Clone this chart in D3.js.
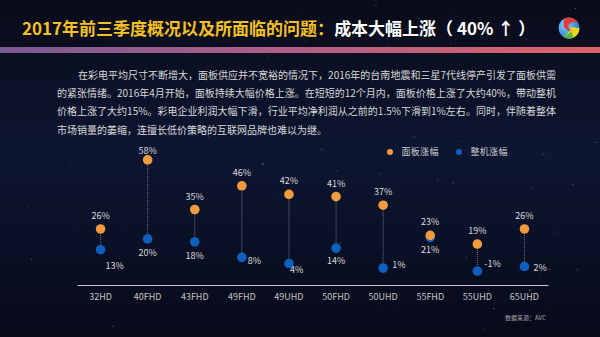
<!DOCTYPE html>
<html><head><meta charset="utf-8">
<script src="https://cdnjs.cloudflare.com/ajax/libs/d3/7.8.5/d3.min.js"></script>
<style>html,body{margin:0;padding:0;background:#0a0e1f;}svg{display:block;}</style>
</head><body>
<script>
// ---------- data ----------
const categories = ["32HD","40FHD","43FHD","49FHD","49UHD","50FHD","50UHD","55FHD","55UHD","65UHD"];
const panelRise  = [26, 58, 35, 46, 42, 41, 37, 23, 19, 26];   // 面板涨幅 (%)
const tvRise     = [13, 20, 18, 8, 4, 14, 1, 21, -1, 2];        // 整机涨幅 (%)
const seriesNames = ["面板涨幅", "整机涨幅"];
const titleYellow = "2017年前三季度概况以及所面临的问题：";
const titleWhite = "成本大幅上涨（ 40% ↑ ）";
const paragraph = [
  "在彩电平均尺寸不断增大，面板供应并不宽裕的情况下，2016年的台南地震和三星7代线停产引发了面板供需",
  "的紧张情绪。2016年4月开始，面板持续大幅价格上涨。在短短的12个月内，面板价格上涨了大约40%，带动整机",
  "价格上涨了大约15%。彩电企业利润大幅下滑，行业平均净利润从之前的1.5%下滑到1%左右。同时，伴随着整体",
  "市场销量的萎缩，连擅长低价策略的互联网品牌也难以为继。"
];
const sourceText = "数据来源：AVC";

// ---------- layout ----------
const W = 600, H = 337;
const FONT = "'Noto Sans CJK SC','Noto Sans',sans-serif";
const ORANGE = "#f29a3f", BLUE = "#0f5fbf";
// label offsets for the 整机 labels (dx, dy, anchor)
const blueLabelLayout = [[5,19,"start"],[0,17,"middle"],[0,17,"middle"],[6,7,"start"],[1,10,"start"],
                         [0,16,"middle"],[9,0,"start"],[0,16,"middle"],[7,-4,"start"],[9,4,"start"]];

const svg = d3.select("body").append("svg").attr("width", W).attr("height", H);
const defs = svg.append("defs");

const bg = defs.append("linearGradient").attr("id","bg").attr("x1",0).attr("y1",0).attr("x2",0).attr("y2",1);
bg.append("stop").attr("offset","0%").attr("stop-color","#090b18");
bg.append("stop").attr("offset","45%").attr("stop-color","#0d1632");
bg.append("stop").attr("offset","100%").attr("stop-color","#070a19");
svg.append("rect").attr("width",W).attr("height",H).attr("fill","url(#bg)");

// faint stars (deterministic)
let seed = 7;
const rnd = () => (seed = (seed * 16807) % 2147483647) / 2147483647;
const stars = svg.append("g");
for (let i = 0; i < 90; i++) {
  const sx = rnd()*W, sy = rnd()*H, so = 0.1 + rnd()*0.35, sr = 0.3 + rnd()*0.5;
  stars.append("circle").attr("cx",sx).attr("cy",sy).attr("r",sr).attr("fill","#ffffff").attr("opacity",so);
}

// title
const title = svg.append("text").attr("x",22).attr("y",34.5)
  .attr("font-family",FONT).attr("font-size",17).attr("font-weight","bold");
title.append("tspan").attr("fill","#f6c124").text(titleYellow);
title.append("tspan").attr("fill","#ffffff").text(titleWhite);

// gradient bar
const bar = defs.append("linearGradient").attr("id","bar").attr("x1",0).attr("x2",1).attr("y1",0).attr("y2",0);
bar.append("stop").attr("offset","0%").attr("stop-color","#7a5a92");
bar.append("stop").attr("offset","50%").attr("stop-color","#b35f86");
bar.append("stop").attr("offset","100%").attr("stop-color","#db6468");
svg.append("rect").attr("x",0).attr("y",47).attr("width",W).attr("height",6).attr("fill","url(#bar)");

// logo
const lg = svg.append("g").attr("transform","translate(569,28)");
const lgGrad = defs.append("radialGradient").attr("id","lgb").attr("cx","35%").attr("cy","35%").attr("r","70%");
lgGrad.append("stop").attr("offset","0%").attr("stop-color","#8ad8ff");
lgGrad.append("stop").attr("offset","100%").attr("stop-color","#1670d0");
lg.append("circle").attr("r",10.5).attr("fill","url(#lgb)");
lg.append("path").attr("d","M10.5,0 A10.5,10.5 0 0 1 -6,8.6 Q1,5 2,-1 Z").attr("fill","#f2d21e");
lg.append("path").attr("d","M4,9.7 A10.5,10.5 0 0 1 -6,8.6 Q0,6.5 2.5,3 Z").attr("fill","#47b94a");
lg.append("path").attr("d","M-4,-9.7 A10.5,10.5 0 0 1 9.5,-4 Q6,-7.5 1,-4.5 Q-3,-1 2.5,3 Q-5.5,2 -5.5,-3 Q-5.5,-7.5 -4,-9.7 Z").attr("fill","#e8393a");

// paragraph
paragraph.forEach((line, i) => {
  const x0 = i === 0 ? 78 : 57;
  const t = svg.append("text").attr("x",x0).attr("y",79 + i*18.2)
    .attr("font-family",FONT).attr("font-size",10).attr("fill","#d8d8d8").text(line);
  if (i < 3) t.attr("textLength", 556 - x0).attr("lengthAdjust","spacing");
});

// scales
const x = d3.scaleBand().domain(categories).range([77, 548]);
const yPanel = d3.scaleLinear().domain([0, 60]).range([285, 155.6]);
const yTv = d3.scaleLinear().domain([-10, 74.2]).range([285, 155.6]);
const cx = d => x(d) + x.bandwidth()/2;

// axis
const axis = svg.append("g").attr("transform","translate(0,285)")
  .call(d3.axisBottom(x).tickSize(0).tickPadding(9));
axis.select(".domain").attr("stroke","#c8c8c8").attr("stroke-width",1);
axis.selectAll("text").attr("font-family",FONT).attr("font-size",9).attr("fill","#c4c4c4");

// connectors
svg.append("g").selectAll("line").data(categories).join("line")
  .attr("x1",cx).attr("x2",cx)
  .attr("y1",(d,i)=>yPanel(panelRise[i])).attr("y2",(d,i)=>yTv(tvRise[i]))
  .attr("stroke","#8a8f9e").attr("stroke-width",0.8).attr("stroke-dasharray","1,1");

// tv dots
svg.append("g").selectAll("circle").data(categories).join("circle")
  .attr("cx",cx).attr("cy",(d,i)=>yTv(tvRise[i])).attr("r",4.8).attr("fill",BLUE);
// panel dots
svg.append("g").selectAll("circle").data(categories).join("circle")
  .attr("cx",cx).attr("cy",(d,i)=>yPanel(panelRise[i])).attr("r",4.8).attr("fill",ORANGE);

// labels
svg.append("g").selectAll("text").data(categories).join("text")
  .attr("x",cx).attr("y",(d,i)=>Math.max(yPanel(panelRise[i]) - 10, 154))
  .attr("text-anchor","middle").attr("font-family",FONT).attr("font-size",9).attr("fill","#dcdcdc")
  .text((d,i)=>panelRise[i] + "%");
svg.append("g").selectAll("text").data(categories).join("text")
  .attr("x",(d,i)=>cx(d) + blueLabelLayout[i][0])
  .attr("y",(d,i)=>yTv(tvRise[i]) + blueLabelLayout[i][1])
  .attr("text-anchor",(d,i)=>blueLabelLayout[i][2])
  .attr("font-family",FONT).attr("font-size",9).attr("fill","#dcdcdc")
  .text((d,i)=>tvRise[i] + "%");

// legend
const legend = svg.append("g");
[[390, ORANGE],[459, BLUE]].forEach(([lx, c], i) => {
  legend.append("circle").attr("cx",lx).attr("cy",152).attr("r",3).attr("fill",c);
  legend.append("text").attr("x",lx+11.5).attr("y",155.2).attr("font-family",FONT)
    .attr("font-size",9).attr("fill","#cfcfcf").attr("letter-spacing",0.3).text(seriesNames[i]);
});

// source
svg.append("text").attr("x",505).attr("y",319.5).attr("font-family",FONT).attr("font-size",6)
  .attr("fill","#a8a8a8").text(sourceText);
</script>
</body></html>
